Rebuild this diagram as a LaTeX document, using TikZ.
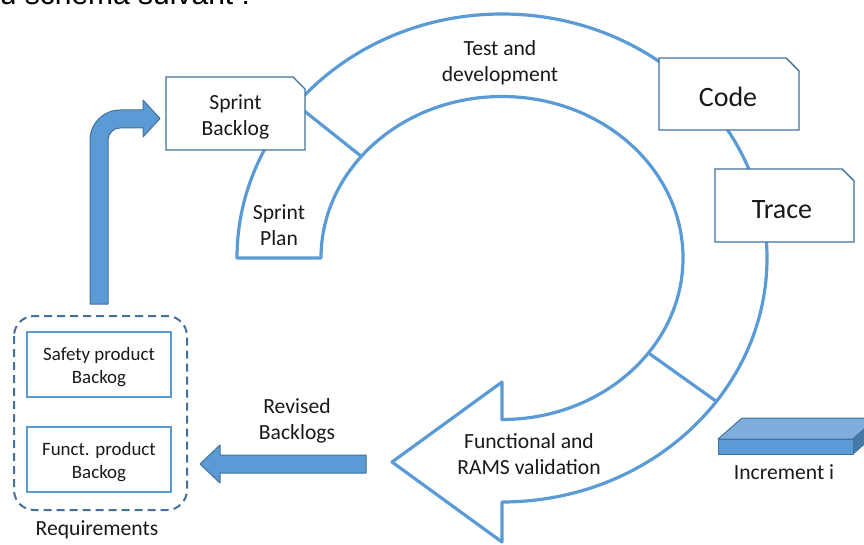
\documentclass[tikz,border=0pt]{standalone}
\usepackage{amsmath,amssymb,graphicx,tikz}
\usepackage{fontspec}
\setmainfont{Carlito}
\newfontfamily\introfont{Liberation Sans}
\definecolor{ribbonblue}{RGB}{91,155,213}
\definecolor{edgeblue}{RGB}{65,113,156}
\definecolor{slabtop}{RGB}{125,174,222}
\definecolor{slabside}{RGB}{70,120,170}

\begin{document}
\begin{tikzpicture}[x=1pt,y=1pt]
        \tikzstyle{every node}+=[inner sep=0pt]
        \tikzstyle{txt}=[font=\fontsize{21.6}{26}\selectfont, align=center, text=black!90]
        \tikzstyle{smalltxt}=[font=\fontsize{18.9}{23}\selectfont, align=center, text=black!90]
        \tikzstyle{bigtxt}=[font=\fontsize{28}{32}\selectfont, align=center, text=black!90]
        \tikzstyle{ring}=[draw=ribbonblue, line width=3.2pt, line join=round]
        \tikzstyle{snipbox}=[draw=edgeblue, line width=1.4pt, fill=white]
        \tikzstyle{blockarrow}=[draw=edgeblue, line width=1pt, fill=ribbonblue, line join=round]
        \useasboundingbox (0,0) rectangle (864,-545);
        \node [anchor=base west, font=\introfont\fontsize{30}{34}\selectfont] (intro) at (-17,-5) {au schéma suivant :};
        \coordinate (hub) at (502,-258);
        \draw [ring] (237,-258) arc [start angle=180, end angle=-90, x radius=265pt, y radius=244pt]
              -- (502,-542) -- (392,-462) -- (502,-382) -- (502,-419.5)
              arc [start angle=-90, end angle=180, x radius=181pt, y radius=161.5pt] -- cycle;
        \draw [ring] ([shift={(141:265pt and 244pt)}]hub) -- ([shift={(141:181pt and 161.5pt)}]hub);
        \draw [ring] ([shift={(-36:265pt and 244pt)}]hub) -- ([shift={(-36:181pt and 161.5pt)}]hub);
        \draw [snipbox] (166,-77) -- (293,-77) -- (305,-89) -- (305,-150) -- (166,-150) -- cycle;
        \node [txt] (backlog) at (235.5,-117) {Sprint\\Backlog};
        \draw [snipbox] (659,-58) -- (786,-58) -- (799,-71) -- (799,-130) -- (659,-130) -- cycle;
        \node [bigtxt] (code) at (728,-97) {Code};
        \draw [snipbox] (715,-169) -- (842,-169) -- (854,-181) -- (854,-242) -- (715,-242) -- cycle;
        \node [bigtxt] (trace) at (782,-210) {Trace};
        \node [txt] (plan) at (279,-225.5) {Sprint\\Plan};
        \node [txt] (testdev) at (500,-63) {Test and\\development};
        \node [txt] (valid) at (529,-454) {Functional and\\RAMS validation};
        \draw [blockarrow] (90,-304) -- (90,-140) arc [start angle=180, end angle=90, radius=30pt]
              -- (143,-110) -- (143,-100) -- (160,-118.5) -- (143,-137) -- (143,-128) -- (120,-128)
              arc [start angle=90, end angle=180, radius=12pt] -- (108,-304) -- cycle;
        \draw [draw=edgeblue, line width=2pt, dash pattern=on 8pt off 5pt, rounded corners=20pt] (14,-316) rectangle (187,-510);
        \draw [draw=ribbonblue, line width=1.3pt] (27,-332) rectangle (171,-397);
        \node [smalltxt] (safety) at (99,-367) {Safety product\\Backog};
        \draw [draw=ribbonblue, line width=1.3pt] (27,-427) rectangle (171,-492);
        \node [smalltxt] (funct) at (99,-462) {Funct. product\\Backog};
        \node [txt] (req) at (97,-530) {Requirements};
        \draw [blockarrow] (366,-455) -- (220,-455) -- (220,-445) -- (200,-464) -- (220,-483) -- (220,-473) -- (366,-473) -- cycle;
        \node [txt] (revised) at (297,-421) {Revised\\Backlogs};
        \draw [blockarrow, fill=slabtop] (718,-439) -- (742,-418) -- (877,-418) -- (853,-439) -- cycle;
        \draw [blockarrow, fill=slabside] (853,-439) -- (877,-418) -- (877,-433) -- (853,-454) -- cycle;
        \draw [blockarrow] (718,-439) rectangle (853,-454);
        \node [txt] (incr) at (784,-472) {Increment i};
    \end{tikzpicture}
\end{document}
